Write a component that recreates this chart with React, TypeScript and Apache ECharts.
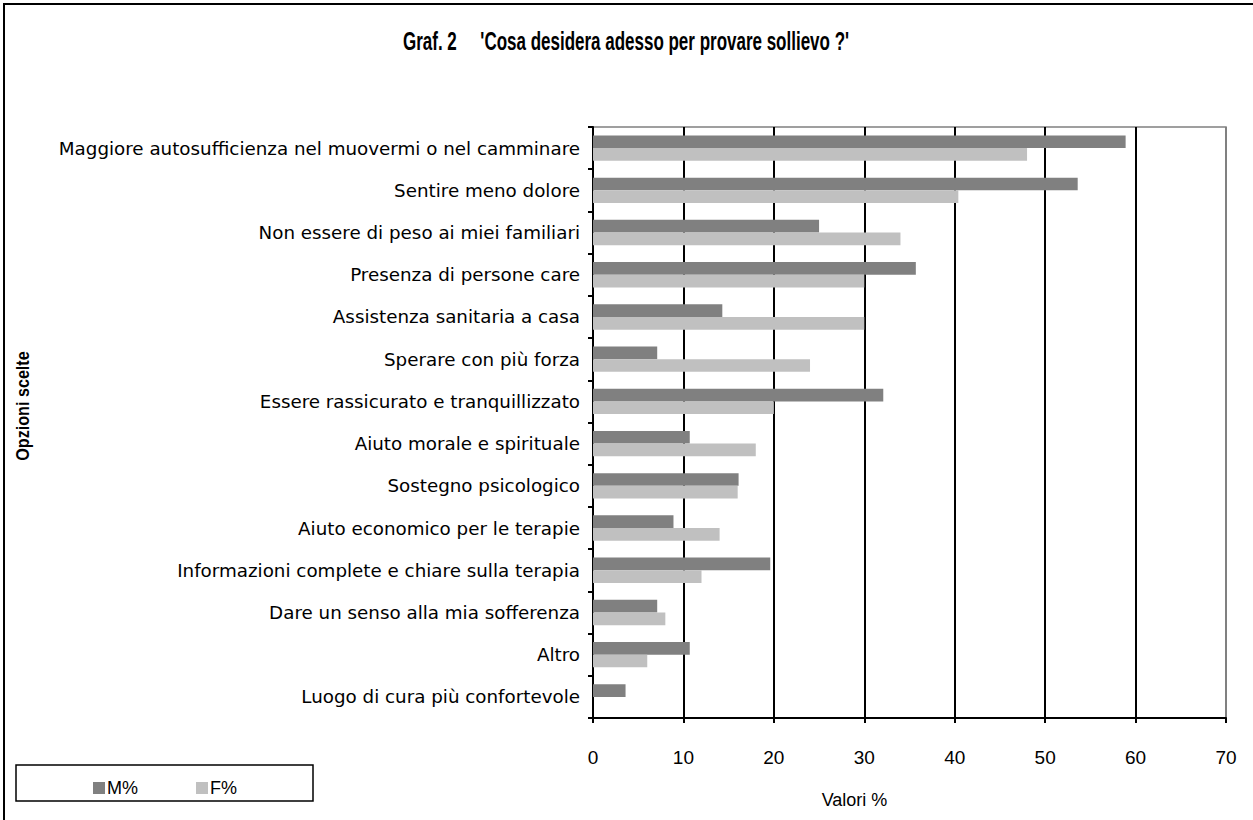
import React, { useEffect, useRef } from "react";
import * as echarts from "echarts";

const categories = [
  "Maggiore autosufficienza nel muovermi o nel camminare",
  "Sentire meno dolore",
  "Non essere di peso ai miei familiari",
  "Presenza di persone care",
  "Assistenza sanitaria a casa",
  "Sperare con più forza",
  "Essere rassicurato e tranquillizzato",
  "Aiuto morale e spirituale",
  "Sostegno psicologico",
  "Aiuto economico per le terapie",
  "Informazioni complete e chiare sulla terapia",
  "Dare un senso alla mia sofferenza",
  "Altro",
  "Luogo di cura più confortevole",
];

const maleValues = [58.9, 53.6, 25.0, 35.7, 14.3, 7.1, 32.1, 10.7, 16.1, 8.9, 19.6, 7.1, 10.7, 3.6];
const femaleValues = [48.0, 40.4, 34.0, 30.0, 30.0, 24.0, 20.0, 18.0, 16.0, 14.0, 12.0, 8.0, 6.0, 0];

const seriesNames = ["M%", "F%"];
const titleText = "Graf. 2     'Cosa desidera adesso per provare sollievo ?'";
const xAxisTitle = "Valori %";
const yAxisTitle = "Opzioni scelte";

const SANS = "'Liberation Sans', Arial, sans-serif";

export default function App() {
  const ref = useRef<HTMLDivElement>(null);
  useEffect(() => {
    document.body.style.margin = "0";
    const chart = echarts.init(ref.current!, null, { renderer: "svg" });
    chart.setOption({
      animation: false,
      backgroundColor: "#ffffff",
      legend: {
        data: seriesNames,
        left: 88,
        top: 774,
        itemWidth: 12,
        itemHeight: 12,
        itemGap: 58,
        icon: "rect",
        textStyle: { fontFamily: SANS, fontSize: 18, color: "#000", padding: [0, 0, 0, -3] },
      },
      grid: {
        left: 593,
        top: 127,
        width: 633,
        height: 591,
        show: true,
        borderColor: "#808080",
        borderWidth: 1.5,
        containLabel: false,
      },
      xAxis: {
        type: "value",
        min: 0,
        max: 70,
        interval: 10,
        name: xAxisTitle,
        nameLocation: "middle",
        nameGap: 73,
        nameTextStyle: {
          fontFamily: SANS,
          fontSize: 18,
          color: "#000",
          padding: [0, 110, 0, 0],
        },
        axisLine: { show: true, lineStyle: { color: "#000", width: 2 } },
        axisTick: { show: true, inside: false, length: 5, lineStyle: { color: "#000", width: 2 } },
        axisLabel: { fontFamily: SANS, fontSize: 19, color: "#000", margin: 30 },
        splitLine: {
          show: true,
          lineStyle: {
            color: ["#000", "#000", "#000", "#000", "#000", "#000", "#000", "#808080"],
            width: 2,
          },
        },
      },
      yAxis: {
        type: "category",
        data: categories,
        inverse: true,
        axisLine: { show: true, lineStyle: { color: "#000", width: 2 } },
        axisTick: { show: true, inside: false, length: 5, lineStyle: { color: "#000", width: 2 } },
        axisLabel: { fontFamily: "DejaVu Sans", fontSize: 18.3, color: "#000", margin: 13 },
        splitLine: { show: false },
      },
      series: [
        {
          name: seriesNames[0],
          type: "bar",
          data: maleValues,
          barGap: "0%",
          barCategoryGap: "40%",
          itemStyle: { color: "#808080" },
        },
        {
          name: seriesNames[1],
          type: "bar",
          data: femaleValues,
          barGap: "0%",
          barCategoryGap: "40%",
          itemStyle: { color: "#c0c0c0" },
        },
      ],
      graphic: [
        {
          type: "rect",
          shape: { x: 4, y: 4, width: 1270, height: 840 },
          style: { fill: "none", stroke: "#000", lineWidth: 2 },
          silent: true,
        },
        {
          type: "rect",
          shape: { x: 16, y: 765, width: 297, height: 36 },
          style: { fill: "none", stroke: "#000", lineWidth: 1.5 },
          silent: true,
        },
        {
          type: "text",
          x: 626,
          y: 42,
          scaleX: 0.68,
          scaleY: 1,
          style: {
            text: titleText,
            fontFamily: SANS,
            fontWeight: "bold",
            fontSize: 25,
            fill: "#000",
            textAlign: "center",
            textVerticalAlign: "middle",
          },
          silent: true,
        },
        {
          type: "text",
          x: 23,
          y: 406,
          rotation: Math.PI / 2,
          scaleX: 0.85,
          style: {
            text: yAxisTitle,
            fontFamily: SANS,
            fontWeight: "bold",
            fontSize: 19,
            fill: "#000",
            textAlign: "center",
            textVerticalAlign: "middle",
          },
          silent: true,
        },
      ],
    });
    return () => chart.dispose();
  }, []);
  return <div ref={ref} style={{ width: 1253, height: 820 }} />;
}
